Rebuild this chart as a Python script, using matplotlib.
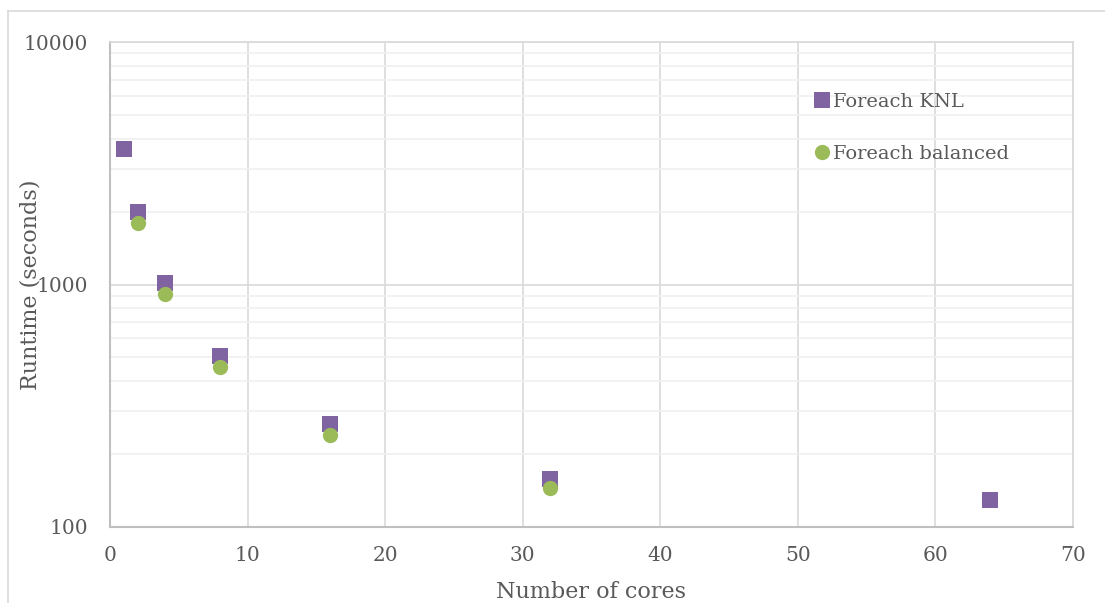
import matplotlib
matplotlib.use('Agg')
import matplotlib.pyplot as plt
from matplotlib.lines import Line2D
from matplotlib.ticker import LogLocator, FixedLocator, NullFormatter

# runtime vs. cores
knl_cores = [1, 2, 4, 8, 16, 32, 64]
knl_runtime = [3620, 1990, 1010, 507, 266, 158, 129]
bal_cores = [2, 4, 8, 16, 32]
bal_runtime = [1794, 914, 457, 239, 145]

x_ticks = [0, 10, 20, 30, 40, 50, 60, 70]
y_ticks = [100, 1000, 10000]
y_tick_labels = ['100', '1000', '10000']

text_col = '#595959'
plt.rcParams['font.family'] = ['DejaVu Serif']

W, H = 1105, 603
fig = plt.figure(figsize=(W / 100, H / 100), dpi=100)
ax = fig.add_axes([110 / W, 1 - 527 / H, 963 / W, 485 / H])

# outer chart frame (cropped)
fig.add_artist(Line2D([8 / W, 1], [1 - 11 / H, 1 - 11 / H], color='#d9d9d9', lw=1.2))
fig.add_artist(Line2D([8 / W, 8 / W], [0, 1 - 11 / H], color='#d9d9d9', lw=1.2))

ax.set_yscale('log')
ax.set_xlim(0, 70)
ax.set_ylim(100, 10000)

ax.xaxis.set_major_locator(FixedLocator(x_ticks))
ax.yaxis.set_major_locator(FixedLocator(y_ticks))
ax.set_yticklabels(y_tick_labels)
ax.yaxis.set_minor_locator(LogLocator(base=10, subs=range(2, 10)))
ax.yaxis.set_minor_formatter(NullFormatter())

ax.grid(True, which='major', axis='both', color='#d9d9d9', lw=1.2, zorder=0)
ax.grid(True, which='minor', axis='y', color='#f0f0f0', lw=1.2, zorder=0)
ax.set_axisbelow(True)

for side in ['top', 'right']:
    ax.spines[side].set_color('#d9d9d9')
    ax.spines[side].set_linewidth(1.2)
for side in ['left', 'bottom']:
    ax.spines[side].set_color('#bfbfbf')
    ax.spines[side].set_linewidth(1.5)

ax.tick_params(axis='both', which='both', length=0, labelsize=14.5, labelcolor=text_col)
ax.tick_params(axis='y', pad=16)
ax.tick_params(axis='x', pad=14)

ax.plot(knl_cores, knl_runtime, 's', color='#8064a2', ms=11, mew=0,
        label='Foreach KNL', zorder=3)
ax.plot(bal_cores, bal_runtime, 'o', color='#9bbb59', ms=11, mew=0,
        label='Foreach balanced', zorder=4)

ax.set_xlabel('Number of cores', fontsize=16, color=text_col, labelpad=11)
ax.set_ylabel('Runtime (seconds)', fontsize=16, color=text_col)
ax.yaxis.set_label_coords(-0.071, 0.5)

leg = ax.legend(loc='upper left', bbox_to_anchor=(0.722, 0.915), frameon=False,
                fontsize=14, handlelength=0.7, handletextpad=0.2,
                labelspacing=1.75, borderpad=0, markerscale=1.0)
for t in leg.get_texts():
    t.set_color(text_col)

fig.savefig('out.png', dpi=100)
